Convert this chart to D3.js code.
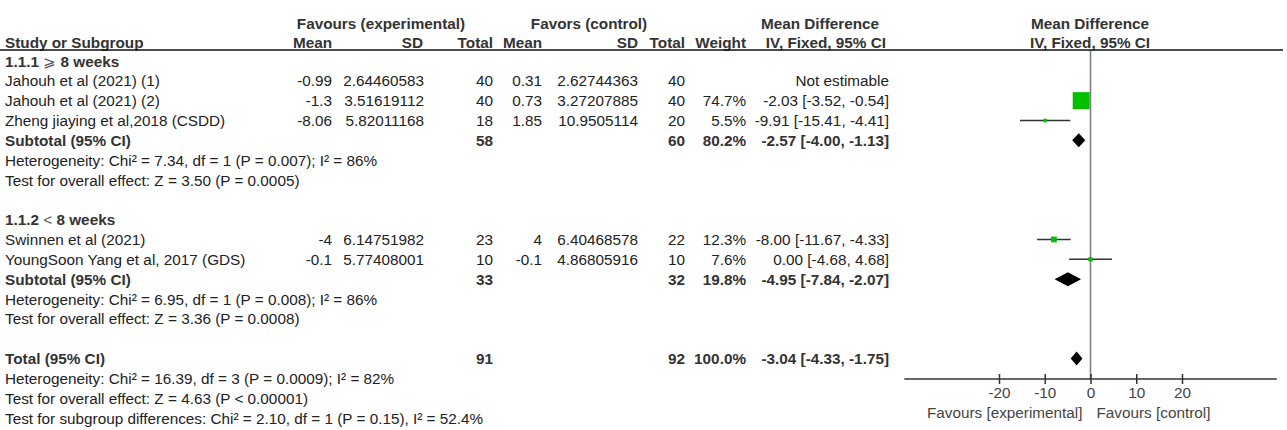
<!DOCTYPE html>
<html>
<head>
<meta charset="utf-8">
<script src="https://cdn.jsdelivr.net/npm/d3@7"></script>
<style>
  html, body { margin: 0; padding: 0; background: #fff; }
  svg { display: block; }
  text { font-family: "Liberation Sans", Arial, sans-serif; font-size: 15.3px; fill: #222; }
  .b { font-weight: bold; fill: #333; }
</style>
</head>
<body>
<svg id="chart" width="1287" height="430"></svg>
<script>
// ---- Study-level data ----
const studies   = ["Jahouh et al (2021) (1)", "Jahouh et al (2021) (2)", "Zheng jiaying et al,2018 (CSDD)",
                   "Swinnen et al (2021)", "YoungSoon Yang et al, 2017 (GDS)"];
const studyGroup = [0, 0, 0, 1, 1];
const expMean   = [-0.99, -1.3, -8.06, -4, -0.1];
const expSD     = [2.64460583, 3.51619112, 5.82011168, 6.14751982, 5.77408001];
const expN      = [40, 40, 18, 23, 10];
const ctrlMean  = [0.31, 0.73, 1.85, 4, -0.1];
const ctrlSD    = [2.62744363, 3.27207885, 10.9505114, 6.40468578, 4.86805916];
const ctrlN     = [40, 40, 20, 22, 10];
const weight    = [null, 74.7, 5.5, 12.3, 7.6];
const md        = [null, -2.03, -9.91, -8.00, 0.00];
const mdLow     = [null, -3.52, -15.41, -11.67, -4.68];
const mdHigh    = [null, -0.54, -4.41, -4.33, 4.68];

// ---- Subgroup and overall pooled results ----
const groupTitles = ["1.1.1", "1.1.2"];
const groupSymbols = ["\u2A7E", "<"];
const groupLabels = ["8 weeks", "8 weeks"];
const groupExpN   = [58, 33];
const groupCtrlN  = [60, 32];
const groupWeight = [80.2, 19.8];
const groupMD     = [-2.57, -4.95];
const groupLow    = [-4.00, -7.84];
const groupHigh   = [-1.13, -2.07];
const groupHet    = ["Heterogeneity: Chi\u00B2 = 7.34, df = 1 (P = 0.007); I\u00B2 = 86%",
                     "Heterogeneity: Chi\u00B2 = 6.95, df = 1 (P = 0.008); I\u00B2 = 86%"];
const groupTest   = ["Test for overall effect: Z = 3.50 (P = 0.0005)",
                     "Test for overall effect: Z = 3.36 (P = 0.0008)"];

const totalExpN = 91, totalCtrlN = 92, totalWeight = 100.0;
const totalMD = -3.04, totalLow = -4.33, totalHigh = -1.75;
const totalNotes = ["Heterogeneity: Chi\u00B2 = 16.39, df = 3 (P = 0.0009); I\u00B2 = 82%",
                    "Test for overall effect: Z = 4.63 (P < 0.00001)",
                    "Test for subgroup differences: Chi\u00B2 = 2.10, df = 1 (P = 0.15), I\u00B2 = 52.4%"];

// ---- Axis ----
const axisTicks = [-20, -10, 0, 10, 20];
const axisLabels = ["Favours [experimental]", "Favours [control]"];

const svg = d3.select("#chart");
// plain hyphen for negative numbers, as in RevMan output
const loc = d3.formatLocale({ decimal: ".", thousands: ",", grouping: [3], currency: ["", ""], minus: "-" });
const fmt2 = loc.format(".2f");
const fmt1 = loc.format(".1f");
const ciText = (m, l, h) => `${fmt2(m)} [${fmt2(l)}, ${fmt2(h)}]`;

// column anchors (right-aligned except the study name)
const col = { name: 5, expMean: 332, expSD: 424, expN: 493, ctrlMean: 542,
              ctrlSD: 638, ctrlN: 685, weight: 746, ci: 889 };

// build the list of table rows in display order
const rows = [];
groupTitles.forEach((g, gi) => {
  rows.push({ type: "group", gi });
  studies.forEach((s, i) => { if (studyGroup[i] === gi) rows.push({ type: "study", i }); });
  rows.push({ type: "subtotal", gi });
  rows.push({ type: "note", text: groupHet[gi] });
  rows.push({ type: "note", text: groupTest[gi] });
  if (gi < groupTitles.length - 1) rows.push({ type: "blank" });
});
rows.push({ type: "blank" });
rows.push({ type: "total" });
totalNotes.forEach(t => rows.push({ type: "note", text: t }));

const y = d3.scaleLinear().domain([0, rows.length - 1]).range([61, 418]);
const x = d3.scaleLinear().domain([-20, 20]).range([999, 1182]);
const axisY = 379;
const axisExtent = [-40.7, 40.7];
const boxSide = d3.scalePow().exponent(0.6).domain([0, 74.7]).range([0, 17]);

function txt(xp, yp, s, anchor, cls) {
  return svg.append("text").attr("x", xp).attr("y", yp).attr("dy", "0.36em")
    .attr("text-anchor", anchor || "end").attr("class", cls || null).text(s);
}

// ---- Header ----
txt(381, 23, "Favours (experimental)", "middle", "b");
txt(589, 23, "Favors (control)", "middle", "b");
txt(820, 23, "Mean Difference", "middle", "b");
txt(1090, 23, "Mean Difference", "middle", "b");
txt(col.name, 42, "Study or Subgroup", "start", "b");
txt(col.expMean, 42, "Mean", "end", "b");
txt(col.expSD - 1, 42, "SD", "end", "b");
txt(col.expN, 42, "Total", "end", "b");
txt(col.ctrlMean, 42, "Mean", "end", "b");
txt(col.ctrlSD, 42, "SD", "end", "b");
txt(col.ctrlN, 42, "Total", "end", "b");
txt(col.weight, 42, "Weight", "end", "b");
txt(col.ci - 3, 42, "IV, Fixed, 95% CI", "end", "b");
txt(1090, 42, "IV, Fixed, 95% CI", "middle", "b");

// zero line of the forest plot
svg.append("line").attr("x1", x(0)).attr("x2", x(0)).attr("y1", 50).attr("y2", axisY)
  .attr("stroke", "#808080").attr("stroke-width", 1.6);

svg.append("line").attr("x1", 0).attr("x2", 1283).attr("y1", 50).attr("y2", 50)
  .attr("stroke", "#111").attr("stroke-width", 1.6);

function diamond(yc, m, l, h) {
  const hh = 7;
  svg.append("path")
    .attr("d", `M${x(l)},${yc} L${x(m)},${yc - hh} L${x(h)},${yc} L${x(m)},${yc + hh} Z`)
    .attr("fill", "#000");
}

// ---- Rows ----
rows.forEach((r, k) => {
  const yc = y(k);
  if (r.type === "group") {
    const t = txt(col.name, yc, null, "start", "b");
    t.append("tspan").text(groupTitles[r.gi] + " ");
    t.append("tspan").attr("font-weight", "normal").style("fill", "#555").text(groupSymbols[r.gi]);
    t.append("tspan").text(" " + groupLabels[r.gi]);
  } else if (r.type === "study") {
    const i = r.i;
    txt(col.name, yc, studies[i], "start");
    txt(col.expMean, yc, String(expMean[i]));
    txt(col.expSD, yc, String(expSD[i]));
    txt(col.expN, yc, String(expN[i]));
    txt(col.ctrlMean, yc, String(ctrlMean[i]));
    txt(col.ctrlSD, yc, String(ctrlSD[i]));
    txt(col.ctrlN, yc, String(ctrlN[i]));
    if (weight[i] == null) {
      txt(col.ci, yc, "Not estimable");
    } else {
      txt(col.weight, yc, fmt1(weight[i]) + "%");
      txt(col.ci, yc, ciText(md[i], mdLow[i], mdHigh[i]));
      svg.append("line").attr("x1", x(mdLow[i])).attr("x2", x(mdHigh[i]))
        .attr("y1", yc).attr("y2", yc).attr("stroke", "#333").attr("stroke-width", 1.5);
      const s = boxSide(weight[i]);
      svg.append("rect").attr("x", x(md[i]) - s / 2).attr("y", yc - s / 2)
        .attr("width", s).attr("height", s).attr("fill", "#00c000");
    }
  } else if (r.type === "subtotal") {
    const g = r.gi;
    txt(col.name, yc, "Subtotal (95% CI)", "start", "b");
    txt(col.expN, yc, String(groupExpN[g]), "end", "b");
    txt(col.ctrlN, yc, String(groupCtrlN[g]), "end", "b");
    txt(col.weight, yc, fmt1(groupWeight[g]) + "%", "end", "b");
    txt(col.ci, yc, ciText(groupMD[g], groupLow[g], groupHigh[g]), "end", "b");
    diamond(yc, groupMD[g], groupLow[g], groupHigh[g]);
  } else if (r.type === "total") {
    txt(col.name, yc, "Total (95% CI)", "start", "b");
    txt(col.expN, yc, String(totalExpN), "end", "b");
    txt(col.ctrlN, yc, String(totalCtrlN), "end", "b");
    txt(col.weight, yc, fmt1(totalWeight) + "%", "end", "b");
    txt(col.ci, yc, ciText(totalMD, totalLow, totalHigh), "end", "b");
    diamond(yc, totalMD, totalLow, totalHigh);
  } else if (r.type === "note") {
    txt(col.name, yc, r.text, "start");
  }
});

// ---- Axis ----
const axisG = svg.append("g").attr("transform", `translate(0,${axisY})`)
  .call(d3.axisBottom(x).tickValues(axisTicks).tickFormat(loc.format("d"))
    .tickSize(5).tickPadding(3.5).tickSizeOuter(0));
axisG.select(".domain").remove();
axisG.selectAll(".tick line").attr("y1", -5).attr("stroke", "#333").attr("stroke-width", 1.5);
axisG.selectAll(".tick text").style("fill", "#444").style("font-size", "15.3px")
  .style("font-family", "'Liberation Sans', Arial, sans-serif");
axisG.append("line").attr("x1", x(axisExtent[0])).attr("x2", x(axisExtent[1]))
  .attr("stroke", "#333").attr("stroke-width", 1.5);

svg.append("text").attr("x", x(0) - 8).attr("y", 412).attr("dy", "0.36em")
  .attr("text-anchor", "end").style("fill", "#444").text(axisLabels[0]);
svg.append("text").attr("x", x(0) + 6).attr("y", 412).attr("dy", "0.36em")
  .attr("text-anchor", "start").style("fill", "#444").text(axisLabels[1]);
</script>
</body>
</html>
